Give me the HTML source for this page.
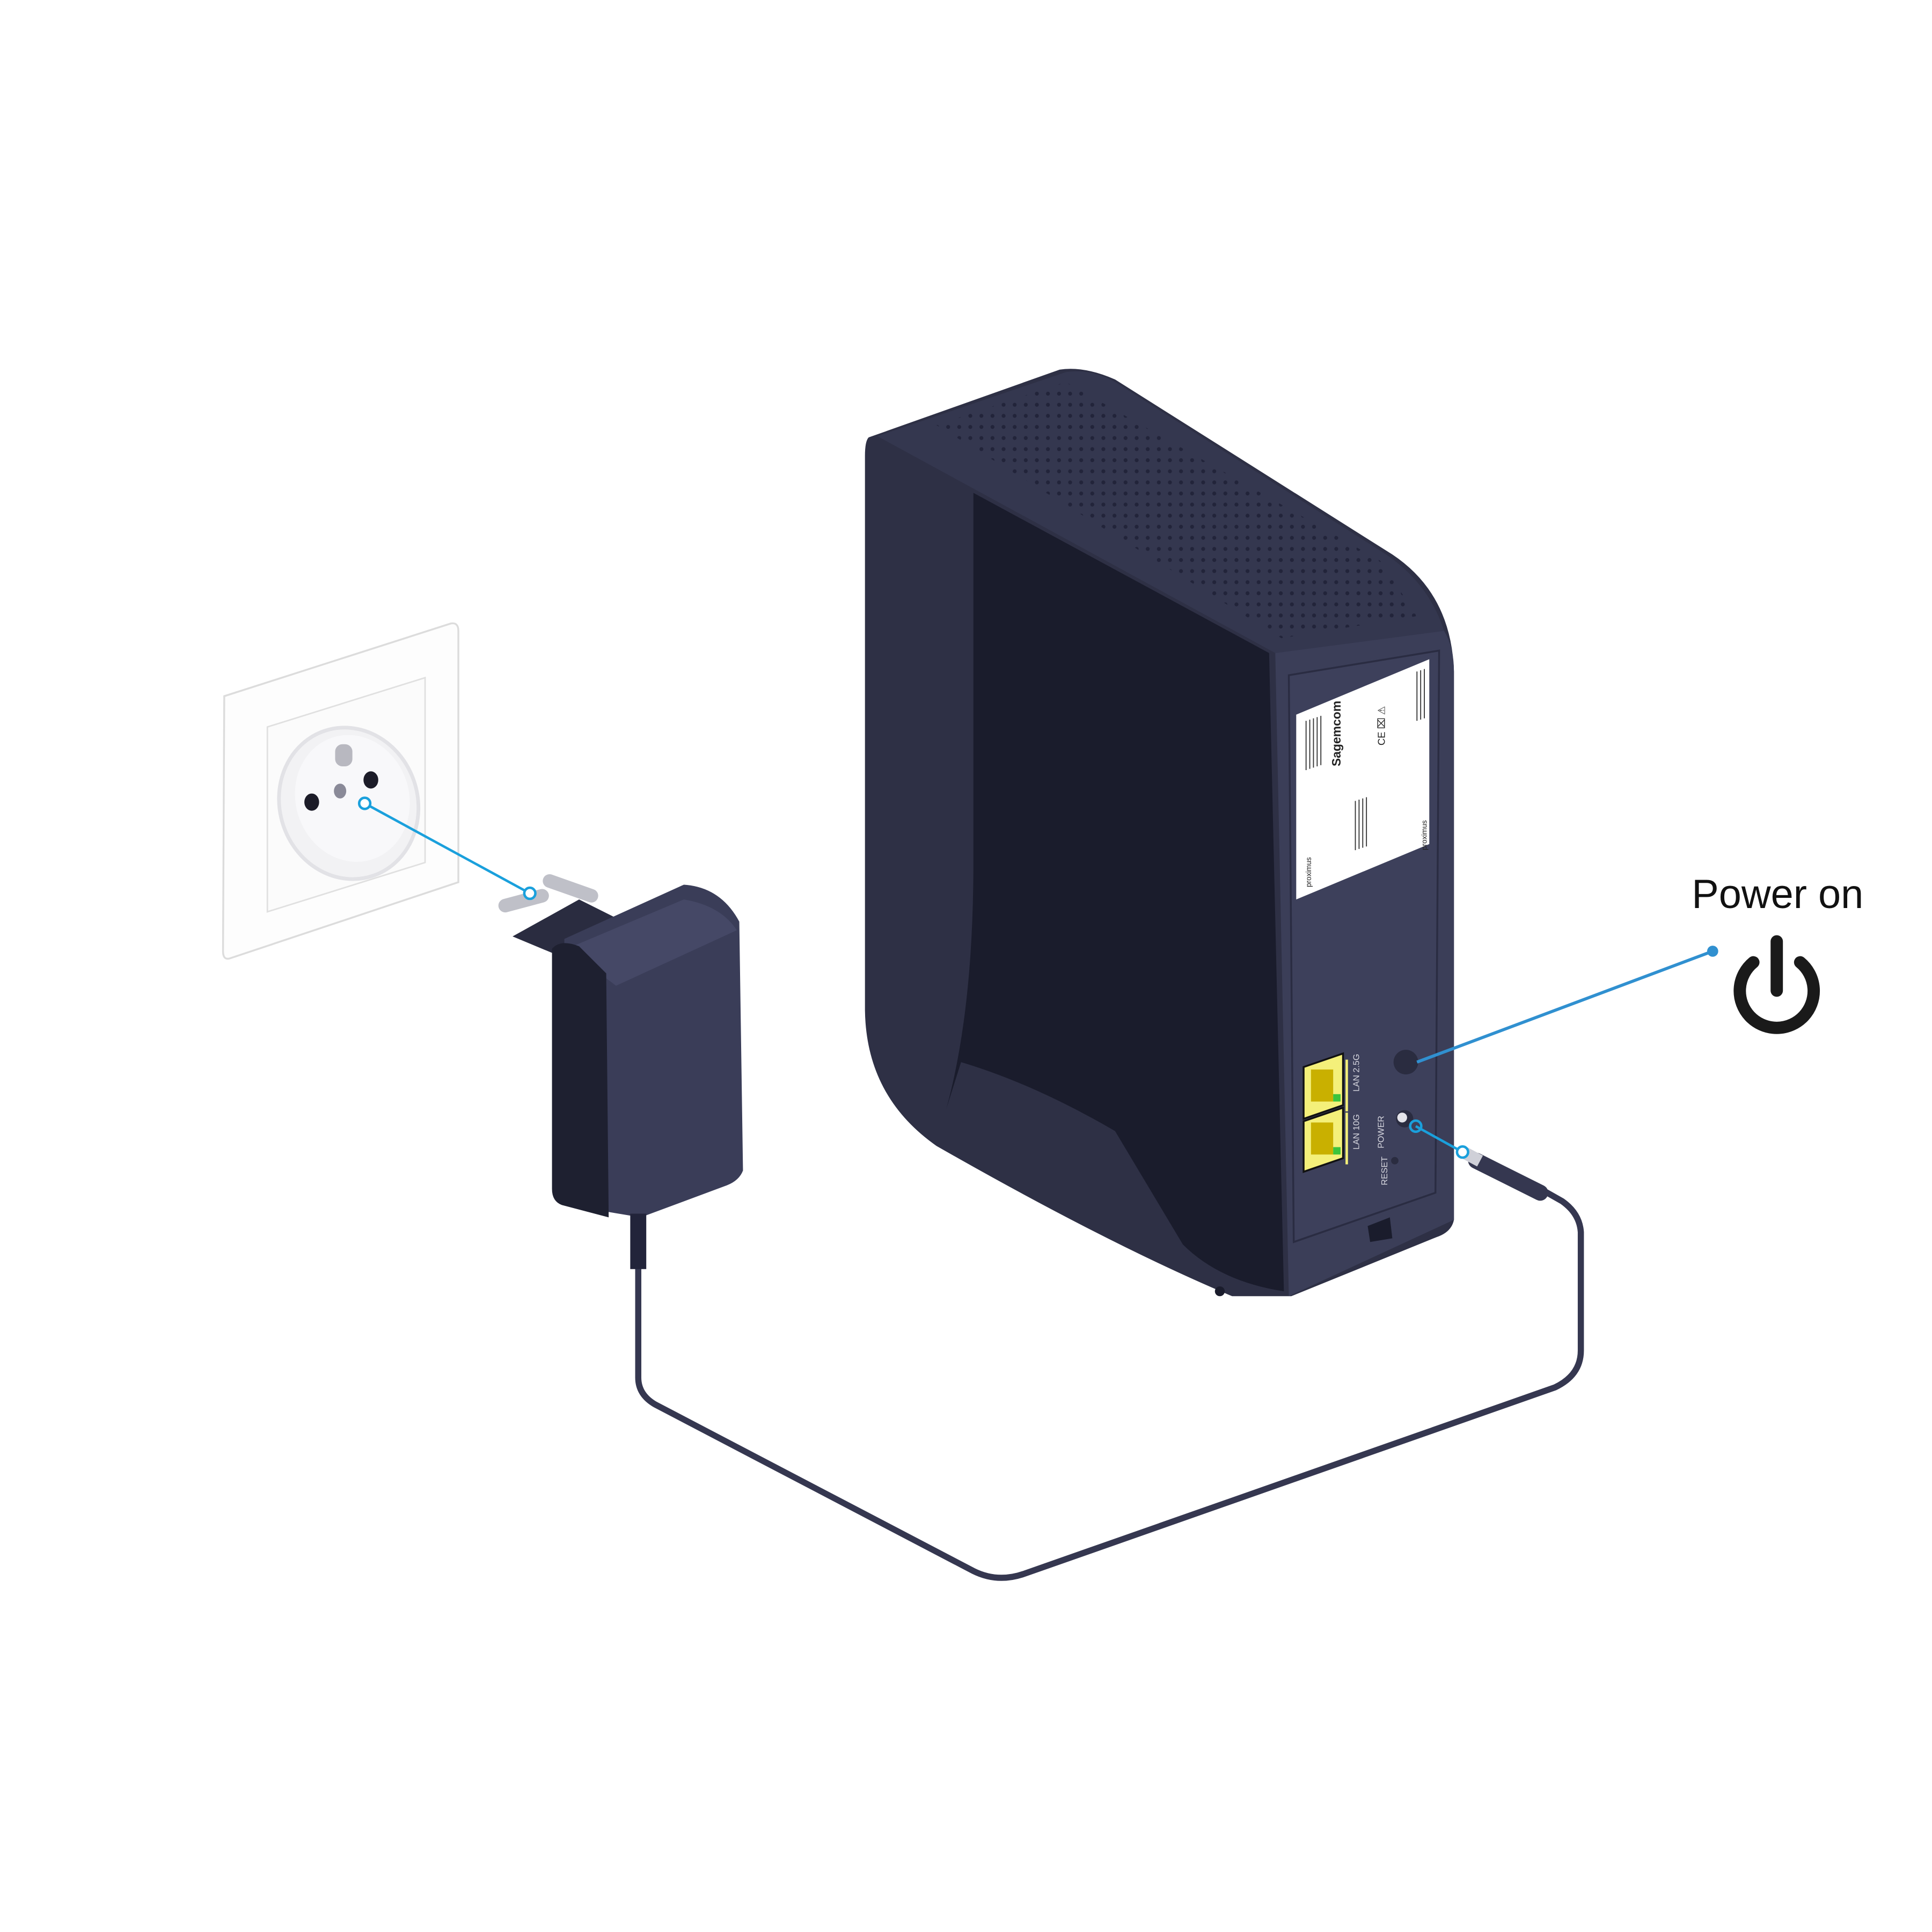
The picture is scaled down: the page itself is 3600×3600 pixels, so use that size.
<!DOCTYPE html>
<html><head><meta charset="utf-8"><style>html,body{margin:0;padding:0;background:#fff}svg{display:block}</style></head>
<body>
<svg width="3600" height="3600" viewBox="0 0 1568 1568" xmlns="http://www.w3.org/2000/svg">
<defs>
<pattern id="dots" width="9" height="9" patternUnits="userSpaceOnUse"><circle cx="4.5" cy="4.5" r="1.6" fill="#22243a"/></pattern>
</defs>
<!-- wall plate -->
<path d="M182,565 L366,506 Q372,505 372,512 L372,716 L186,778 Q181,779 181,772 Z" fill="#fdfdfd" stroke="#dcdcdc" stroke-width="1.5"/>
<path d="M217,590 L345,550 L345,700 L217,740 Z" fill="#fbfbfb" stroke="#e0e0e0" stroke-width="1.2"/>
<ellipse cx="283" cy="652" rx="56" ry="62" transform="rotate(-18 283 652)" fill="#f2f2f4" stroke="#e2e2e6" stroke-width="3"/>
<ellipse cx="286" cy="648" rx="46" ry="52" transform="rotate(-18 286 648)" fill="#f8f8fa"/>
<rect x="272" y="604" width="14" height="18" rx="6" fill="#b8b8c0"/>
<ellipse cx="253" cy="651" rx="6" ry="7" fill="#1c1c28"/>
<ellipse cx="301" cy="633" rx="6" ry="7" fill="#1c1c28"/>
<ellipse cx="276" cy="642" rx="5" ry="6" fill="#8a8a98"/>
<!-- cable -->
<path d="M518,1030 L518,1118 Q518,1132 532,1140 L790,1275 Q810,1285 832,1277 L1262,1126 Q1283,1116 1283,1096 L1283,1000 Q1282,985 1268,975 L1245,962" fill="none" stroke="#353750" stroke-width="5" stroke-linecap="round"/>
<path d="M1198,942 L1250,968" stroke="#353750" stroke-width="13" stroke-linecap="round"/>
<rect x="1188" y="934" width="14" height="10" fill="#cfd0d8" transform="rotate(28 1195 939)"/>
<!-- adapter -->
<path d="M410,735 L440,727" stroke="#bfc0c8" stroke-width="11" stroke-linecap="round"/>
<path d="M446,715 L480,727" stroke="#bfc0c8" stroke-width="11" stroke-linecap="round"/>
<path d="M416,760 L470,730 L500,745 L452,775 Z" fill="#2a2c40"/>
<path d="M458,762 L555,718 Q585,720 600,748 L603,950 Q600,958 590,962 L520,988 L460,978 Z" fill="#3a3d58"/>
<path d="M460,770 L555,730 Q585,735 598,755 L500,800 Z" fill="#454866"/>
<path d="M448,770 Q455,762 470,768 L492,790 L494,988 L456,978 Q448,975 448,965 Z" fill="#1e2030"/>
<path d="M518,985 L518,1030" stroke="#22243a" stroke-width="13"/>
<!-- router body -->
<path d="M705,355 L860,300 Q880,297 905,308 L1130,450 Q1178,482 1180,545 L1180,990 Q1178,1000 1166,1004 L1048,1052 L1000,1052 Q900,1010 760,930 Q703,890 702,820 L702,370 Q702,358 705,355 Z" fill="#2e3045"/>
<path d="M712,354 L865,302 Q885,299 905,310 L1125,450 Q1160,474 1172,512 L1035,530 Z" fill="#34374f"/>
<path d="M760,345 L865,310 L1120,455 L1150,500 L1040,518 Z" fill="url(#dots)"/>
<path d="M790,400 L1030,530 L1042,1048 Q990,1040 960,1010 L905,918 Q840,880 780,862 L768,900 Q790,820 790,700 Z" fill="#1a1c2c"/>
<path d="M1035,530 L1172,512 Q1180,525 1180,545 L1180,990 L1046,1052 Z" fill="#3b3e58"/>
<path d="M1046,548 L1168,528 L1165,968 L1050,1008 Z" fill="#3d405b" stroke="#2a2c42" stroke-width="1.5"/>
<!-- label -->
<path d="M1052,580 L1160,535 L1160,685 L1052,730 Z" fill="#ffffff"/>
<g font-family="Liberation Sans, sans-serif" fill="#222">
<text x="0" y="0" font-size="10" font-weight="bold" transform="translate(1088,622) rotate(-90)">Sagemcom</text>
<text x="0" y="0" font-size="6" transform="translate(1064,720) rotate(-90)">proximus</text>
<text x="0" y="0" font-size="6" transform="translate(1158,690) rotate(-90)">proximus</text>
<text x="0" y="0" font-size="8" transform="translate(1124,605) rotate(-90)">CE ⌧ ⚠</text>
</g>
<g stroke="#333" stroke-width="0.8">
<path d="M1060,585 v40 M1063,584 v40 M1066,583 v40 M1069,582 v40 M1072,581 v40"/>
<path d="M1150,545 v40 M1153,544 v40 M1156,543 v40"/>
<path d="M1100,650 v40 M1103,649 v40 M1106,648 v40 M1109,647 v40"/>
</g>
<!-- ports -->
<path d="M1058,866 L1090,855 L1090,897 L1058,908 Z" fill="#f4f07a" stroke="#111" stroke-width="1.5"/>
<path d="M1058,910 L1090,899 L1090,940 L1058,951 Z" fill="#f4f07a" stroke="#111" stroke-width="1.5"/>
<rect x="1064" y="868" width="18" height="26" fill="#c9b000"/>
<rect x="1064" y="911" width="18" height="26" fill="#c9b000"/>
<rect x="1082" y="888" width="6" height="6" fill="#3cc43c"/>
<rect x="1082" y="931" width="6" height="6" fill="#3cc43c"/>
<path d="M1093,860 v42 M1093,903 v42" stroke="#f4f07a" stroke-width="2"/>
<g font-family="Liberation Sans, sans-serif" font-size="7" fill="#d8d8e0">
<text transform="translate(1103,886) rotate(-90)">LAN 2.5G</text>
<text transform="translate(1103,933) rotate(-90)">LAN 10G</text>
<text transform="translate(1123,932) rotate(-90)">POWER</text>
<text transform="translate(1126,962) rotate(-90)">RESET</text>
</g>
<circle cx="1141" cy="862" r="10" fill="#2a2c40"/>
<circle cx="1140" cy="908" r="7" fill="#2a2c40"/>
<circle cx="1138" cy="907" r="4" fill="#e4e4ea"/>
<circle cx="1132" cy="942" r="3" fill="#2a2c40"/>
<path d="M1110,995 L1128,988 L1130,1005 L1112,1008 Z" fill="#1a1c2c"/>
<circle cx="990" cy="1048" r="4" fill="#1a1c2c"/>
<!-- callout lines -->
<g stroke="#1aa0dc" stroke-width="2" fill="#fff">
<line x1="296" y1="652" x2="430" y2="725"/>
<circle cx="296" cy="652" r="4.5"/>
<circle cx="430" cy="725" r="4.5"/>
<line x1="1149" y1="914" x2="1187" y2="935"/>
<circle cx="1149" cy="914" r="4.5" fill="none"/>
<circle cx="1187" cy="935" r="4.5"/>
</g>
<line x1="1150" y1="862" x2="1390" y2="772" stroke="#3090d0" stroke-width="2.5"/>
<circle cx="1390" cy="772" r="4.5" fill="#3090d0"/>
<text x="1373" y="737" font-family="Liberation Sans, sans-serif" font-size="33" fill="#111">Power on</text>
<path d="M1423,781 A30,30 0 1 0 1461,781" fill="none" stroke="#1a1a1a" stroke-width="10" stroke-linecap="round"/>
<line x1="1442" y1="764" x2="1442" y2="804" stroke="#1a1a1a" stroke-width="10" stroke-linecap="round"/>
</svg>
</body></html>
